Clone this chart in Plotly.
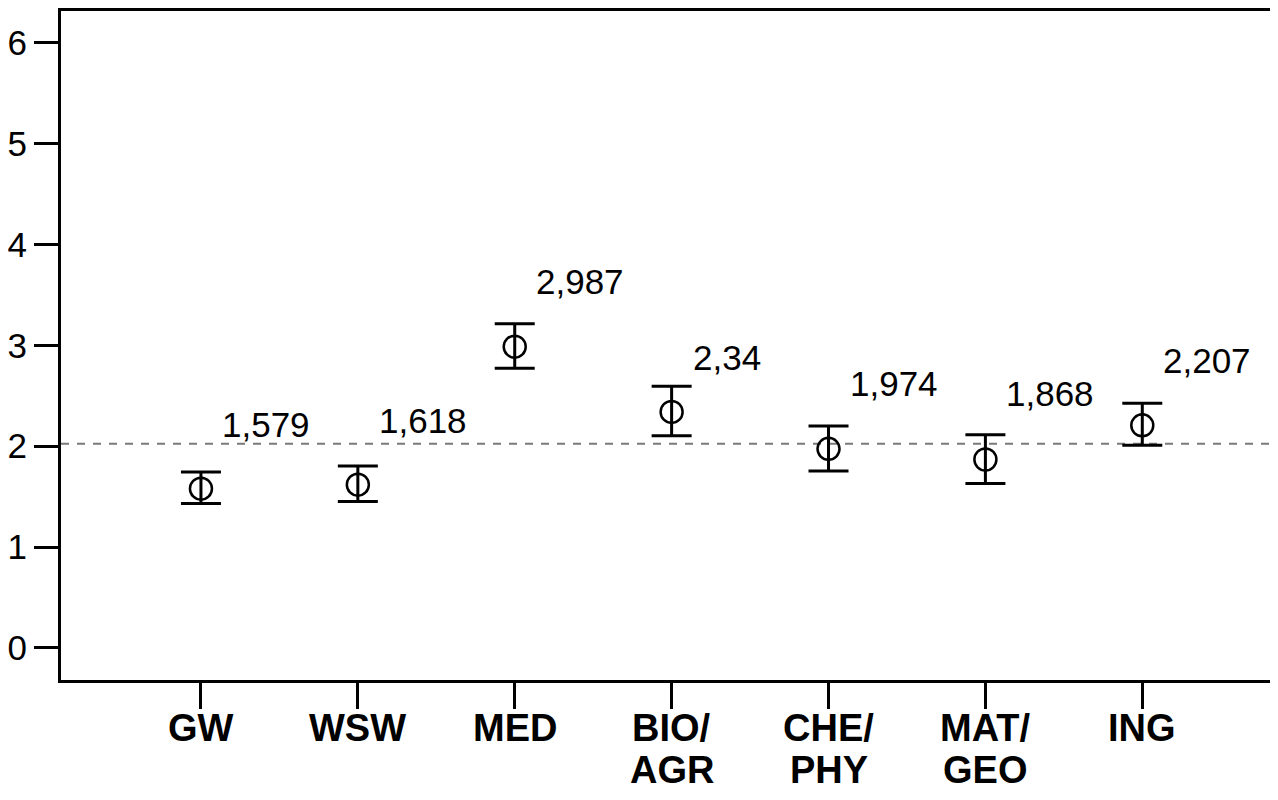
import plotly.graph_objects as go

# ---- data ----
categories = ["GW", "WSW", "MED", "BIO/AGR", "CHE/PHY", "MAT/GEO", "ING"]
tick_labels = ["GW", "WSW", "MED", "BIO/\nAGR", "CHE/\nPHY", "MAT/\nGEO", "ING"]
means = [1.579, 1.618, 2.987, 2.34, 1.974, 1.868, 2.207]
ci_lower = [1.432, 1.451, 2.774, 2.103, 1.754, 1.629, 2.008]
ci_upper = [1.745, 1.804, 3.213, 2.594, 2.199, 2.113, 2.426]
reference_mean = 2.025
y_ticks = [0, 1, 2, 3, 4, 5, 6]

# ---- styles ----
label_dy = [64, 64, 65, 54, 65, 66, 65]   # px shift of value labels above the point
FONT = "Liberation Sans, Arial, sans-serif"

x = list(range(len(categories)))

fig = go.Figure(
    go.Scatter(
        x=x,
        y=means,
        mode="markers",
        marker=dict(symbol="circle-open", size=22, color="black", line=dict(width=2.5, color="black")),
        error_y=dict(
            type="data",
            symmetric=False,
            array=[u - m for u, m in zip(ci_upper, means)],
            arrayminus=[m - l for m, l in zip(means, ci_lower)],
            color="black",
            thickness=3,
            width=20,
        ),
        hoverinfo="skip",
    )
)

annotations = []
for xi, m, dy in zip(x, means, label_dy):
    annotations.append(dict(
        x=xi, y=m, xref="x", yref="y",
        text=f"{m:g}".replace(".", ","),
        showarrow=False, xanchor="left", yanchor="middle",
        xshift=19, yshift=dy,
        font=dict(family=FONT, size=35, color="black"),
    ))

for xi, lab in zip(x, tick_labels):
    for li, line in enumerate(lab.split("\n")):
        annotations.append(dict(
            x=xi, y=0, xref="x", yref="paper",
            text=f"<b>{line}</b>",
            showarrow=False, xanchor="center", yanchor="middle",
            yshift=-48 - 42 * li,
            font=dict(family=FONT, size=38, color="black"),
        ))

fig.update_layout(
    width=1270,
    height=784,
    margin=dict(l=46, r=0, t=0, b=112),
    paper_bgcolor="white",
    plot_bgcolor="white",
    showlegend=False,
    annotations=annotations,
    shapes=[dict(
        type="line", xref="paper", yref="y",
        x0=0, x1=1, y0=reference_mean, y1=reference_mean,
        line=dict(color="#7a7a7a", width=2, dash="8px,8px"),
        layer="below",
    )],
    xaxis=dict(
        range=[-0.892, 6.865],
        tickvals=x,
        showticklabels=False,
        ticks="outside", ticklen=26, tickwidth=3, tickcolor="black",
        showline=True, linewidth=3, linecolor="black", mirror=True,
        showgrid=False, zeroline=False,
    ),
    yaxis=dict(
        range=[-0.319, 6.316],
        tickvals=y_ticks,
        ticks="outside", ticklen=24, tickwidth=3, tickcolor="black",
        tickfont=dict(family=FONT, size=35, color="black"),
        showline=True, linewidth=3, linecolor="black", mirror=False,
        showgrid=False, zeroline=False,
    ),
)

fig.write_html("out.html")
